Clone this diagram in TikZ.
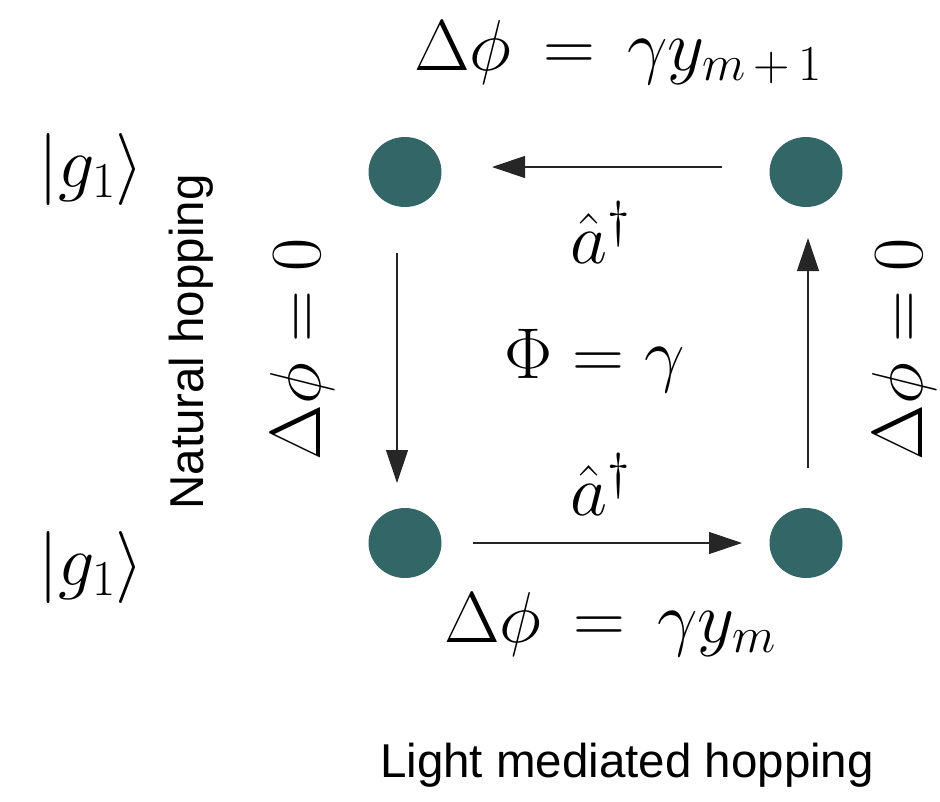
\RequirePackage{fix-cm}
\documentclass[tikz,border=0pt]{standalone}
\usepackage{fontspec}
\newfontfamily\labelsans{Liberation Sans}
\usetikzlibrary{arrows.meta,shapes.geometric}
\definecolor{sitecol}{RGB}{51,102,102}
\tikzset{
  site/.style={ellipse, fill=sitecol, draw=none, minimum width=73pt, minimum height=70pt, inner sep=0pt},
  arr/.style={-{Triangle[length=33pt,width=22pt]}, line width=1.2pt, draw=black!85, fill=black},
  bigmath/.style={inner sep=0pt, font=\fontsize{72}{86}\selectfont},
  sanslab/.style={inner sep=0pt, font=\labelsans\fontsize{47.5}{56}\selectfont}
}
\begin{document}
\begin{tikzpicture}[x=1pt,y=-1pt]
\useasboundingbox (0,0) rectangle (940,801);
\node[site] (tl) at (405,172) {};
\node[site] (tr) at (806,172) {};
\node[site] (bl) at (405,543) {};
\node[site] (br) at (806,543) {};
\draw[arr, shorten <=84pt, shorten >=87pt] ([yshift=5pt]tr.center) -- ([yshift=5pt]tl.center);
\draw[arr, shorten <=81pt, shorten >=60pt] ([xshift=-8pt]tl.center) -- ([xshift=-8pt]bl.center);
\draw[arr, shorten <=75pt, shorten >=66pt] ([xshift=2pt]br.center) -- ([xshift=2pt]tr.center);
\draw[arr, shorten <=68pt, shorten >=64pt] (bl.center) -- (br.center);
\node[bigmath, anchor=base] (ptop) at (618,70) {$\Delta\phi\mkern3mu=\mkern3mu\gamma y_{m\mkern3mu+\mkern3mu1}$};
\node[bigmath, anchor=base] (pbot) at (610,642) {$\Delta\phi\mkern3mu=\mkern3mu\gamma y_{m}$};
\node[bigmath, anchor=base] (flux) at (595,378) {$\Phi=\gamma$};
\node[bigmath, anchor=base] (atop) at (600,263) {$\hat a^\dagger$};
\node[bigmath, anchor=base] (abot) at (600,515) {$\hat a^\dagger$};
\node[bigmath] (gtop) at (91,169) {$|g_1\rangle$};
\node[bigmath] (gbot) at (91,567) {$|g_1\rangle$};
\node[bigmath, rotate=90, anchor=base] (pleft) at (320,349) {$\Delta\phi=0$};
\node[bigmath, rotate=90, anchor=base] (pright) at (922,349) {$\Delta\phi=0$};
\node[sanslab, rotate=90, anchor=base] (nat) at (203,342) {Natural hopping};
\node[sanslab, anchor=base] (light) at (627,777) {Light mediated hopping};
\end{tikzpicture}
\end{document}
